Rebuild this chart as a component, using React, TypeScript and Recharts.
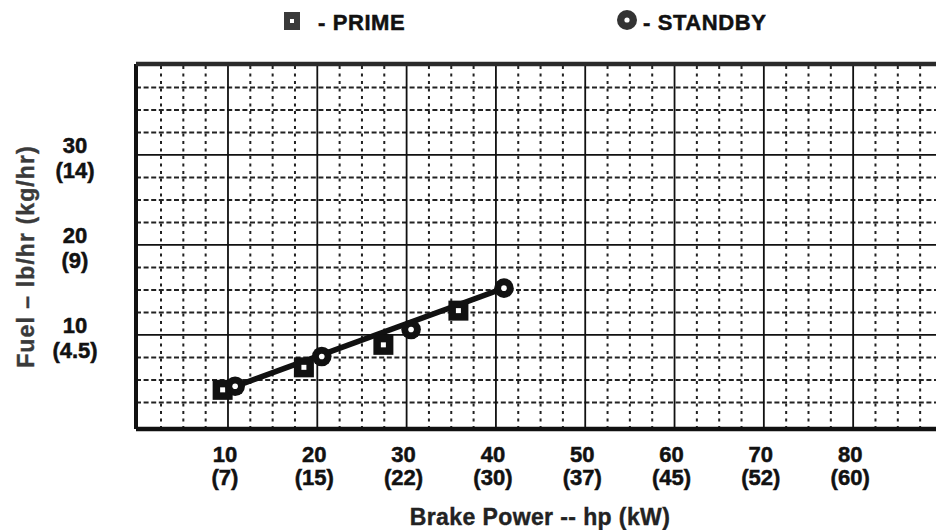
import React from "react"
import {
  ComposedChart,
  Line,
  Scatter,
  XAxis,
  YAxis,
  ReferenceLine,
  Legend,
  Label,
} from "recharts"

// Prime rating points (hp, lb/hr)
const primeHp = [9.4, 18.5, 27.4, 35.8]
const primeFuel = [3.9, 6.4, 8.9, 12.7]

// Standby rating points
const standbyHp = [10.8, 20.5, 30.5, 40.9]
const standbyFuel = [4.3, 7.6, 10.6, 15.2]

// straight fuel curve drawn through the points
const curveHp = [10.3, 40.9]
const curveFuel = [4.1, 15.2]

const xTicks = [10, 20, 30, 40, 50, 60, 70, 80]
const xTicksKw = ["(7)", "(15)", "(22)", "(30)", "(37)", "(45)", "(52)", "(60)"]
const yTicks = [10, 20, 30]
const yTicksKg = ["(4.5)", "(9)", "(14)"]

const xDomain: [number, number] = [-0.3, 89.5]
const yDomain: [number, number] = [-0.45, 40.1]

const xMajor = [10, 20, 30, 40, 50, 60, 70, 80]
const yMajor = [10, 20, 30]
const xMinor = Array.from({ length: 35 }, (_, i) => (i + 1) * 2.5).filter((v) => v % 10 !== 0)
const yMinor = Array.from({ length: 15 }, (_, i) => (i + 1) * 2.5).filter((v) => v % 10 !== 0)

const prime = primeHp.map((hp, i) => ({ hp, fuel: primeFuel[i] }))
const standby = standbyHp.map((hp, i) => ({ hp, fuel: standbyFuel[i] }))
const curve = curveHp.map((hp, i) => ({ hp, fuel: curveFuel[i] }))

const FONT = "'Liberation Sans', Arial, Helvetica, sans-serif"
const INK = "#111"

const SquareDot = (props: any) => {
  const { cx, cy } = props
  return (
    <g>
      <rect x={cx - 10} y={cy - 10} width={20} height={20} fill={INK} />
      <rect x={cx - 2.5} y={cy - 2.5} width={5} height={5} fill="#fff" />
    </g>
  )
}

const RingDot = (props: any) => {
  const { cx, cy } = props
  return (
    <g>
      <circle cx={cx} cy={cy} r={9.8} fill={INK} />
      <circle cx={cx} cy={cy} r={2.8} fill="#fff" />
    </g>
  )
}

const tickText = { fontFamily: FONT, fontWeight: "bold", fontSize: 22, fill: INK, stroke: INK, strokeWidth: 0.5 }

const XTick = (props: any) => {
  const { x, y, payload } = props
  const i = xTicks.indexOf(payload.value)
  return (
    <g {...tickText} textAnchor="middle">
      <text x={x - 3} y={y + 33}>{payload.value}</text>
      <text x={x - 3} y={y + 56}>{xTicksKw[i]}</text>
    </g>
  )
}

const YTick = (props: any) => {
  const { x, y, payload } = props
  const i = yTicks.indexOf(payload.value)
  return (
    <g {...tickText} textAnchor="middle">
      <text x={x - 61} y={y - 2}>{payload.value}</text>
      <text x={x - 61} y={y + 23}>{yTicksKg[i]}</text>
    </g>
  )
}

const legendPos = [
  { icon: 284, text: 318 },
  { icon: 617, text: 643 },
]

const renderLegend = (props: any) => {
  const items = (props.payload || []).filter((p: any) => p.type !== "none")
  return (
    <svg width={936} height={40} style={{ display: "block" }}>
      {items.map((entry: any, i: number) => {
        const pos = legendPos[i]
        return (
          <g key={entry.value}>
            {i === 0 ? (
              <g>
                <rect x={pos.icon} y={12} width={16} height={18} fill="#3a3a3a" />
                <rect x={pos.icon + 6} y={19} width={4} height={4} fill="#fff" />
              </g>
            ) : (
              <g>
                <circle cx={pos.icon + 10} cy={20} r={10} fill="#333" />
                <circle cx={pos.icon + 10} cy={20} r={2.6} fill="#fff" />
              </g>
            )}
            <text
              x={pos.text}
              y={30}
              fontFamily={FONT}
              fontWeight="bold"
              fontSize={22}
              letterSpacing={0.6}
              fill={INK}
              stroke={INK}
              strokeWidth={0.5}
            >
              {"- " + entry.value}
            </text>
          </g>
        )
      })}
    </svg>
  )
}

export default function App() {
  return (
    <div style={{ position: "absolute", left: 0, top: 0, width: 936, height: 530, overflow: "hidden", background: "#fff" }}>
      <ComposedChart width={960} height={530} margin={{ top: 64, right: 22, bottom: 0, left: 0 }}>
        <XAxis
          type="number"
          dataKey="hp"
          domain={xDomain}
          ticks={xTicks}
          allowDataOverflow
          axisLine={false}
          tickLine={false}
          tickSize={0}
          tickMargin={0}
          height={101}
          tick={<XTick />}
          interval={0}
        >
          <Label
            content={(p: any) => {
              const vb = p.viewBox
              return (
                <text
                  x={vb.x + vb.width / 2 + 3}
                  y={vb.y + 96}
                  textAnchor="middle"
                  fontFamily={FONT}
                  fontWeight="bold"
                  fontSize={23}
                  letterSpacing={0.4}
                  fill="#222"
                  stroke="#222"
                  strokeWidth={0.4}
                >
                  Brake Power -- hp (kW)
                </text>
              )
            }}
          />
        </XAxis>
        <YAxis
          type="number"
          dataKey="fuel"
          domain={yDomain}
          ticks={yTicks}
          allowDataOverflow
          axisLine={false}
          tickLine={false}
          tickSize={0}
          tickMargin={0}
          width={136}
          tick={<YTick />}
          interval={0}
        >
          <Label
            content={(p: any) => {
              const vb = p.viewBox
              const cx = vb.x + 26
              const cy = vb.y + vb.height / 2 + 10
              return (
                <text
                  x={cx}
                  y={cy}
                  transform={`rotate(-90, ${cx}, ${cy})`}
                  textAnchor="middle"
                  dominantBaseline="central"
                  fontFamily={FONT}
                  fontWeight="bold"
                  fontSize={23}
                  letterSpacing={1.1}
                  fill="#3a3a3a"
                  stroke="#3a3a3a"
                  strokeWidth={0.4}
                >
                  Fuel – lb/hr (kg/hr)
                </text>
              )
            }}
          />
        </YAxis>

        {xMinor.map((v) => (
          <ReferenceLine key={"xm" + v} x={v} stroke="#222" strokeWidth={2} strokeDasharray="3 4.5" />
        ))}
        {yMinor.map((v) => (
          <ReferenceLine key={"ym" + v} y={v} stroke="#222" strokeWidth={2} strokeDasharray="5 2.6" />
        ))}
        {xMajor.map((v) => (
          <ReferenceLine key={"xM" + v} x={v} stroke={INK} strokeWidth={1.8} />
        ))}
        {yMajor.map((v) => (
          <ReferenceLine key={"yM" + v} y={v} stroke={INK} strokeWidth={1.8} />
        ))}
        <ReferenceLine x={xDomain[0]} stroke={INK} strokeWidth={4} />
        <ReferenceLine y={yDomain[0]} stroke={INK} strokeWidth={4.5} />
        <ReferenceLine y={yDomain[1]} stroke="#2a2a2a" strokeWidth={4.5} />

        <Line
          data={curve}
          dataKey="fuel"
          type="linear"
          stroke={INK}
          strokeWidth={5.5}
          dot={false}
          activeDot={false}
          legendType="none"
          isAnimationActive={false}
        />
        <Scatter name="PRIME" data={prime} dataKey="fuel" shape={<SquareDot />} isAnimationActive={false} />
        <Scatter name="STANDBY" data={standby} dataKey="fuel" shape={<RingDot />} isAnimationActive={false} />

        <Legend
          content={renderLegend}
          layout="horizontal"
          verticalAlign="middle"
          align="center"
          wrapperStyle={{ top: 0, left: 0, width: 936, height: 40 }}
        />
      </ComposedChart>
    </div>
  )
}
